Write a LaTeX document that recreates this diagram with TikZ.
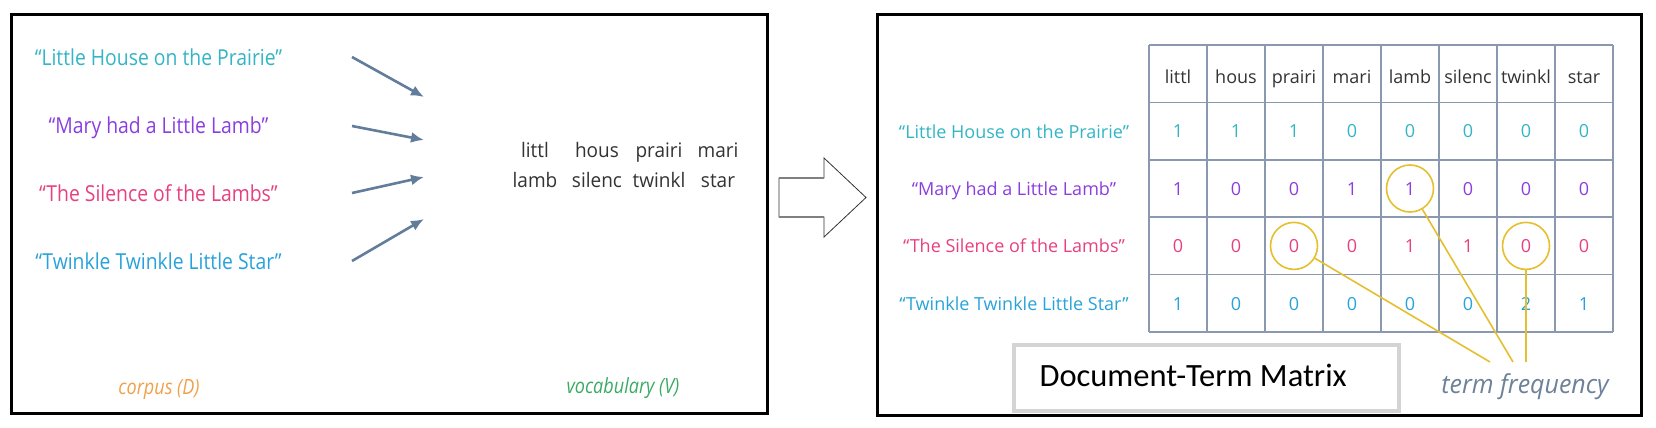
\documentclass[tikz,border=0pt]{standalone}
\usepackage{fontspec}
\usepackage{graphicx}
\usetikzlibrary{arrows.meta}
\newfontfamily\osans{Open Sans}
\newfontfamily\calib{Carlito}
\definecolor{cteal}{RGB}{51,181,197}
\definecolor{cpurple}{RGB}{138,62,224}
\definecolor{cpink}{RGB}{230,64,127}
\definecolor{cblue}{RGB}{40,162,218}
\definecolor{corange}{RGB}{240,160,72}
\definecolor{cgreen}{RGB}{58,170,101}
\definecolor{arrowc}{RGB}{98,125,155}
\definecolor{gridc}{RGB}{138,152,176}
\definecolor{goldc}{RGB}{229,191,46}
\definecolor{tfgray}{RGB}{109,129,153}
\definecolor{boxgray}{RGB}{212,212,212}
\definecolor{txtdark}{RGB}{51,51,51}
\colorlet{rc1}{cteal}
\colorlet{rc2}{cpurple}
\colorlet{rc3}{cpink}
\colorlet{rc4}{cblue}
\begin{document}
\begin{tikzpicture}[x=1pt,y=-1pt,
  frame/.style={draw=black,line width=3pt},
  ttl/.style={anchor=base,font=\osans\fontsize{22}{26}\selectfont},
  voc/.style={anchor=base,text=txtdark,font=\osans\fontsize{20}{24}\selectfont},
  captxt/.style={anchor=base,font=\osans\itshape\fontsize{21}{24}\selectfont},
  varrow/.style={draw=arrowc,line width=2.6pt,-{Latex[length=13pt,width=11pt]}},
  hollow/.style={draw=black!80,fill=white,line width=0.8pt},
  shaft/.style={draw=black!50,line width=2pt},
  rlab/.style={anchor=base,font=\osans\fontsize{18}{22}\selectfont},
  hdr/.style={anchor=base,text=txtdark,font=\osans\fontsize{18}{22}\selectfont},
  val/.style={anchor=base,font=\osans\fontsize{18}{22}\selectfont},
  gridl/.style={draw=gridc,line width=1.5pt},
  ring/.style={circle,draw=goldc,line width=1.6pt,minimum size=47pt,inner sep=0pt},
  tfline/.style={draw=goldc,line width=1.6pt},
  dtmbox/.style={draw=boxgray,line width=4pt,fill=white,minimum width=385pt,minimum height=66pt,inner sep=0pt}
]
\useasboundingbox (0,0) rectangle (1656,428);

% ---------- left panel ----------
\draw[frame] (11,15) rectangle (767,413);

\node[ttl,text=cteal]   (d1) at (158.5,66)  {\scalebox{0.88}[1]{“Little House on the Prairie”}};
\node[ttl,text=cpurple] (d2) at (158.5,133) {\scalebox{0.88}[1]{“Mary had a Little Lamb”}};
\node[ttl,text=cpink]   (d3) at (158.5,201) {\scalebox{0.88}[1]{“The Silence of the Lambs”}};
\node[ttl,text=cblue]   (d4) at (158.5,269) {\scalebox{0.88}[1]{“Twinkle Twinkle Little Star”}};

\coordinate (a1s) at (352,57);  \coordinate (a1e) at (424,97);
\coordinate (a2s) at (352,126); \coordinate (a2e) at (424,140);
\coordinate (a3s) at (352,193); \coordinate (a3e) at (424,177);
\coordinate (a4s) at (352,261); \coordinate (a4e) at (424,219);
\draw[varrow] (a1s) -- (a1e);
\draw[varrow] (a2s) -- (a2e);
\draw[varrow] (a3s) -- (a3e);
\draw[varrow] (a4s) -- (a4e);

\node[voc] (w1) at (535,157) {\scalebox{0.95}[1]{littl}};
\node[voc] (w2) at (597,157) {\scalebox{0.95}[1]{hous}};
\node[voc] (w3) at (659,157) {\scalebox{0.95}[1]{prairi}};
\node[voc] (w4) at (718,157) {\scalebox{0.95}[1]{mari}};
\node[voc] (w5) at (535,187) {\scalebox{0.95}[1]{lamb}};
\node[voc] (w6) at (597,187) {\scalebox{0.95}[1]{silenc}};
\node[voc] (w7) at (659,187) {\scalebox{0.95}[1]{twinkl}};
\node[voc] (w8) at (718,187) {\scalebox{0.95}[1]{star}};

\node[captxt,text=corange] (corpus) at (159,394) {\scalebox{0.86}[1]{corpus (D)}};
\node[captxt,text=cgreen]  (vocab)  at (623,393) {\scalebox{0.86}[1]{vocabulary (V)}};

% ---------- big hollow arrow ----------
\draw[hollow] (779,178) -- (824,178) -- (824,158) -- (866,197.5) -- (824,237) -- (824,217) -- (779,217) -- cycle;
\draw[shaft] (779,178) -- (824,178);
\draw[shaft] (779,217) -- (824,217);

% ---------- right panel ----------
\draw[frame] (877,15) rectangle (1641,415);

\foreach \i in {0,...,8} \draw[gridl] ({1149+58*\i},45) -- ({1149+58*\i},332);
\foreach \j in {0,...,5} \draw[gridl] (1149,{45+57.4*\j}) -- (1613,{45+57.4*\j});

\foreach \w [count=\i] in {littl,hous,prairi,mari,lamb,silenc,twinkl,star}
  \node[hdr] (h-\i) at ({1149+58*\i-29},83) {\w};

\node[rlab,text=cteal]   (r1) at (1014,138)   {“Little House on the Prairie”};
\node[rlab,text=cpurple] (r2) at (1014,195.5) {“Mary had a Little Lamb”};
\node[rlab,text=cpink]   (r3) at (1014,252.9) {“The Silence of the Lambs”};
\node[rlab,text=cblue]   (r4) at (1014,310.3) {“Twinkle Twinkle Little Star”};

\foreach \row [count=\r] in {{1,1,1,0,0,0,0,0},{1,0,0,1,1,0,0,0},{0,0,0,0,1,1,0,0},{1,0,0,0,0,0,2,1}}
  \foreach \v [count=\c] in \row
    \node[val,text=rc\r] (v-\r-\c) at ({1149+58*\c-29},{45+57.4*\r+28.7+6.8}) {\v};

% highlight rings and their leader lines
\node[ring] (ring1) at (1410,188.5) {};
\node[ring] (ring2) at (1294,245.9) {};
\node[ring] (ring3) at (1526,245.9) {};
\coordinate (t1) at (1513,362);
\coordinate (t2) at (1490,362);
\coordinate (t3) at (1526,362);
\draw[tfline] (ring1) -- (t1);
\draw[tfline] (ring2) -- (t2);
\draw[tfline] (ring3) -- (t3);

\node[captxt,text=tfgray,font=\osans\itshape\fontsize{26}{30}\selectfont] (tf) at (1525,393) {\scalebox{0.96}[1]{term frequency}};

\node[dtmbox] (dtm) at (1206.5,378) {};
\node[anchor=base west,text=black,font=\calib\fontsize{32.5}{38}\selectfont] (dtmtxt) at (1036,386.7) {Document-Term Matrix};
\end{tikzpicture}
\end{document}
